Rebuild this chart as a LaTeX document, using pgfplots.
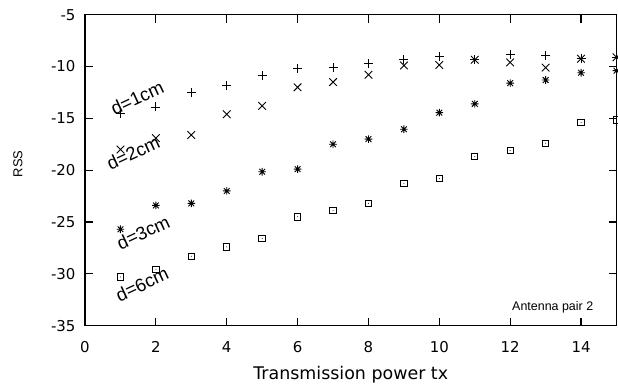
\documentclass[border=0pt]{standalone}
\usepackage{fontspec}
\setmainfont{DejaVu Sans}
\newfontfamily\arial{Liberation Sans}
\usepackage{pgfplots}
\pgfplotsset{compat=1.18}
\pgfdeclareplotmark{gpplus}{%
  \pgfpathmoveto{\pgfqpoint{-\pgfplotmarksize}{0pt}}\pgfpathlineto{\pgfqpoint{\pgfplotmarksize}{0pt}}%
  \pgfpathmoveto{\pgfqpoint{0pt}{-\pgfplotmarksize}}\pgfpathlineto{\pgfqpoint{0pt}{\pgfplotmarksize}}%
  \pgfusepathqstroke}
\pgfdeclareplotmark{gpcross}{%
  \pgfpathmoveto{\pgfqpoint{-\pgfplotmarksize}{-\pgfplotmarksize}}\pgfpathlineto{\pgfqpoint{\pgfplotmarksize}{\pgfplotmarksize}}%
  \pgfpathmoveto{\pgfqpoint{-\pgfplotmarksize}{\pgfplotmarksize}}\pgfpathlineto{\pgfqpoint{\pgfplotmarksize}{-\pgfplotmarksize}}%
  \pgfusepathqstroke}
\pgfdeclareplotmark{gpstar}{%
  \pgfpathmoveto{\pgfqpoint{-\pgfplotmarksize}{0pt}}\pgfpathlineto{\pgfqpoint{\pgfplotmarksize}{0pt}}%
  \pgfpathmoveto{\pgfqpoint{0pt}{-\pgfplotmarksize}}\pgfpathlineto{\pgfqpoint{0pt}{\pgfplotmarksize}}%
  \pgfpathmoveto{\pgfqpoint{-0.75\pgfplotmarksize}{-0.75\pgfplotmarksize}}\pgfpathlineto{\pgfqpoint{0.75\pgfplotmarksize}{0.75\pgfplotmarksize}}%
  \pgfpathmoveto{\pgfqpoint{-0.75\pgfplotmarksize}{0.75\pgfplotmarksize}}\pgfpathlineto{\pgfqpoint{0.75\pgfplotmarksize}{-0.75\pgfplotmarksize}}%
  \pgfusepathqstroke}
\pgfdeclareplotmark{gpsquare}{%
  \pgfpathrectangle{\pgfqpoint{-\pgfplotmarksize}{-\pgfplotmarksize}}{\pgfqpoint{2\pgfplotmarksize}{2\pgfplotmarksize}}%
  \pgfusepathqstroke
  \pgfpathcircle{\pgfpointorigin}{0.5bp}\pgfusepathqfill}
\begin{document}
\begin{tikzpicture}
\begin{axis}[
  scale only axis, width=531.5bp, height=311bp,
  xmin=0, xmax=15, ymin=-35, ymax=-5,
  xtick={0,2,...,14}, ytick={-35,-30,...,-5},
  tick align=inside, major tick length=8bp,
  axis line style={line width=1.2bp},
  tick style={line width=1.2bp, black},
  ticklabel style={font=\fontsize{15}{18}\selectfont},
  xticklabel style={yshift=-12bp},
  yticklabel style={xshift=-6bp},
  /pgf/number format/assume math mode=true,
  xlabel={Transmission power tx},
  xlabel style={font=\fontsize{17.5}{20}\selectfont, at={(axis description cs:0.5,0)}, anchor=center, yshift=-49bp},
  ylabel={RSS},
  ylabel style={font=\arial\fontsize{13}{15}\selectfont, at={(axis description cs:0,0.52)}, anchor=center, yshift=67bp},
  clip=false,
]
\coordinate (ll) at (rel axis cs:0,0);
\coordinate (ur) at (rel axis cs:1,1);
\addplot[only marks, mark=gpplus, mark size=4.5bp, line width=0.9bp, black] coordinates {
(1,-14.5)(2,-13.9)(3,-12.5)(4,-11.85)(5,-10.9)(6,-10.2)(7,-10.05)(8,-9.75)(9,-9.3)(10,-9.0)(11,-9.3)(12,-8.8)(13,-8.9)(14,-9.2)(15,-9.1)};
\addplot[only marks, mark=gpcross, mark size=3.8bp, line width=0.9bp, black] coordinates {
(1,-18.0)(2,-16.9)(3,-16.6)(4,-14.6)(5,-13.8)(6,-12.0)(7,-11.5)(8,-10.8)(9,-9.9)(10,-9.85)(11,-9.35)(12,-9.6)(13,-10.1)(14,-9.25)(15,-9.1)};
\addplot[only marks, mark=gpstar, mark size=3.8bp, line width=0.9bp, black] coordinates {
(1,-25.7)(2,-23.4)(3,-23.2)(4,-22.0)(5,-20.15)(6,-19.9)(7,-17.5)(8,-17.0)(9,-16.05)(10,-14.45)(11,-13.6)(12,-11.6)(13,-11.3)(14,-10.6)(15,-10.4)};
\addplot[only marks, mark=gpsquare, mark size=3.2bp, line width=1bp, black] coordinates {
(1,-30.3)(2,-29.55)(3,-28.3)(4,-27.4)(5,-26.6)(6,-24.5)(7,-23.9)(8,-23.2)(9,-21.3)(10,-20.8)(11,-18.7)(12,-18.1)(13,-17.4)(14,-15.4)(15,-15.15)};
\node[font=\arial\fontsize{18.5}{21}\selectfont, rotate=25] at (axis cs:1.47,-13.0) {d=1cm};
\node[font=\arial\fontsize{18.5}{21}\selectfont, rotate=25] at (axis cs:1.36,-18.3) {d=2cm};
\node[font=\arial\fontsize{18.5}{21}\selectfont, rotate=25] at (axis cs:1.64,-26.0) {d=3cm};
\node[font=\arial\fontsize{18.5}{21}\selectfont, rotate=25] at (axis cs:1.61,-31.0) {d=6cm};
\node[font=\arial\fontsize{12.5}{15}\selectfont] at (axis cs:13.2,-33.2) {Antenna pair 2};
\end{axis}
\pgfresetboundingbox
\path ([shift={(-85bp,-59.3bp)}]ll) rectangle ([shift={(1.5bp,14.7bp)}]ur);
\end{tikzpicture}
\end{document}
